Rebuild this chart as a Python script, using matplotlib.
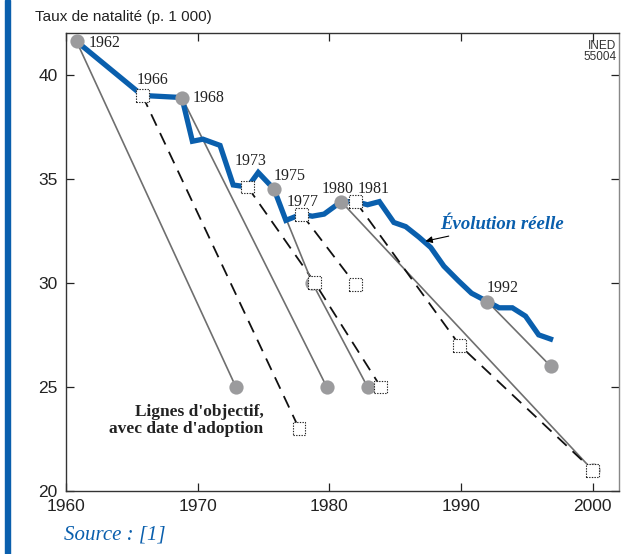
import matplotlib
matplotlib.use("Agg")
import matplotlib.pyplot as plt
from matplotlib.patches import Rectangle

# actual birth rate (per 1000)
actual_years = [1960.8, 1965.8, 1968.8, 1969.6, 1970.4, 1971.7, 1972.7, 1973.8, 1974.6,
                1975.8, 1976.7, 1977.9, 1978.7, 1979.6, 1980.9, 1982.0, 1982.9, 1983.8,
                1984.9, 1985.8, 1986.8, 1987.7, 1988.7, 1989.8, 1990.8, 1992.0, 1992.9,
                1993.9, 1994.9, 1995.9, 1996.8]
actual_rate = [41.6, 39.0, 38.9, 36.8, 36.9, 36.6, 34.7, 34.6, 35.3,
               34.5, 33.0, 33.3, 33.2, 33.3, 33.9, 33.9, 33.75, 33.9,
               32.9, 32.7, 32.2, 31.7, 30.8, 30.1, 29.5, 29.1, 28.8,
               28.8, 28.4, 27.5, 27.3]

# objective lines: adoption label, points (year, rate), kind
goal_labels = ["1962", "1966", "1968", "1973", "1975", "1977", "1980", "1981", "1992"]
goal_years = [[1960.8, 1972.9], [1965.8, 1977.7], [1968.8, 1979.8],
              [1973.8, 1978.9, 1983.9], [1975.8, 1978.7, 1982.9], [1977.9, 1982.0],
              [1980.9, 2000.0], [1982.0, 1989.9, 2000.0], [1992.0, 1996.8]]
goal_rates = [[41.6, 25.0], [39.0, 23.0], [38.9, 25.0],
              [34.6, 30.0, 25.0], [34.5, 30.0, 25.0], [33.3, 29.9],
              [33.9, 21.0], [33.9, 27.0, 21.0], [29.1, 26.0]]
goal_kind = ["circle", "square", "circle", "square", "circle", "square", "circle", "square", "circle"]
# label offsets in points
label_offsets = [(8.6, -1.5), (-4.3, 10.8), (8, 0), (-9.4, 18.7), (0, 9.4),
                 (-10.8, 8.6), (-14.4, 9.4), (1.4, 9.4), (-0.7, 10)]

blue = "#0a5fad"
grey = "#9b9b9d"
serif = "Liberation Serif"
sans = "Liberation Sans"

fig = plt.figure(figsize=(6.42, 5.54), dpi=100)
ax = fig.add_axes([66/642, 1 - 491/554, (619-66)/642, (491-33)/554])

# blue bar on the left edge
fig.patches.append(Rectangle((5/642, 0), 5/642, 1, transform=fig.transFigure,
                             color=blue, zorder=0))

for i in range(len(goal_labels)):
    if goal_kind[i] == "circle":
        ax.plot(goal_years[i], goal_rates[i], color="#6f6f6f", lw=1.2, zorder=2)
    else:
        ax.plot(goal_years[i], goal_rates[i], color="#111111", lw=1.3,
                dashes=(7, 4.5), zorder=2)

ax.plot(actual_years, actual_rate, color=blue, lw=3.8, solid_joinstyle="miter", zorder=3)

for i in range(len(goal_labels)):
    if goal_kind[i] == "circle":
        ax.scatter(goal_years[i], goal_rates[i], s=105, color=grey, zorder=4,
                   linewidths=0)
    else:
        ax.scatter(goal_years[i], goal_rates[i], s=85, marker="s", facecolor="white",
                   edgecolor="#222222", linewidths=0.8, linestyle=(0, (1.2, 1.2)), zorder=5)
    ax.annotate(goal_labels[i], (goal_years[i][0], goal_rates[i][0]),
                xytext=label_offsets[i], textcoords="offset points",
                ha="left", va="center", fontsize=11.5, family=serif, color="#222222",
                zorder=6)

ax.annotate("Évolution réelle", xy=(1987.3, 32.0), xytext=(1988.4, 32.8),
            fontsize=13.5, family=serif, style="italic", weight="bold", color=blue,
            ha="left", va="center",
            arrowprops=dict(arrowstyle="-|>", color="black", lw=0.8,
                            mutation_scale=10, shrinkA=1, shrinkB=0))

ax.text(1975.0, 23.4, "Lignes d'objectif,\navec date d'adoption", ha="right", va="center",
        fontsize=12.5, family=serif, weight="bold", color="#222222", linespacing=1.05)

ax.text(0.995, 0.985, "INED\n55004", transform=ax.transAxes, ha="right", va="top",
        fontsize=8.5, family=sans, color="#333333", linespacing=0.95)

ax.set_xlim(1960, 2002)
ax.set_ylim(20, 42)
ax.set_xticks([1960, 1970, 1980, 1990, 2000])
ax.set_yticks([20, 25, 30, 35, 40])
ax.tick_params(direction="in", length=6, width=0.9, top=True, right=True,
               labelsize=12.5, pad=6, colors="#222222")
for lab in ax.get_xticklabels() + ax.get_yticklabels():
    lab.set_family(sans)
for sp in ax.spines.values():
    sp.set_linewidth(1.0)
    sp.set_color("#333333")
ax.spines["right"].set_color("#888888")

fig.text(35/642, 1 - 17/554, "Taux de natalité (p. 1 000)", ha="left", va="center",
         fontsize=11, family=sans, color="#222222")
fig.text(64/642, 1 - 535/554, "Source : [1]", ha="left", va="center",
         fontsize=15, family=serif, style="italic", color=blue)

fig.savefig("out.png", dpi=100)
